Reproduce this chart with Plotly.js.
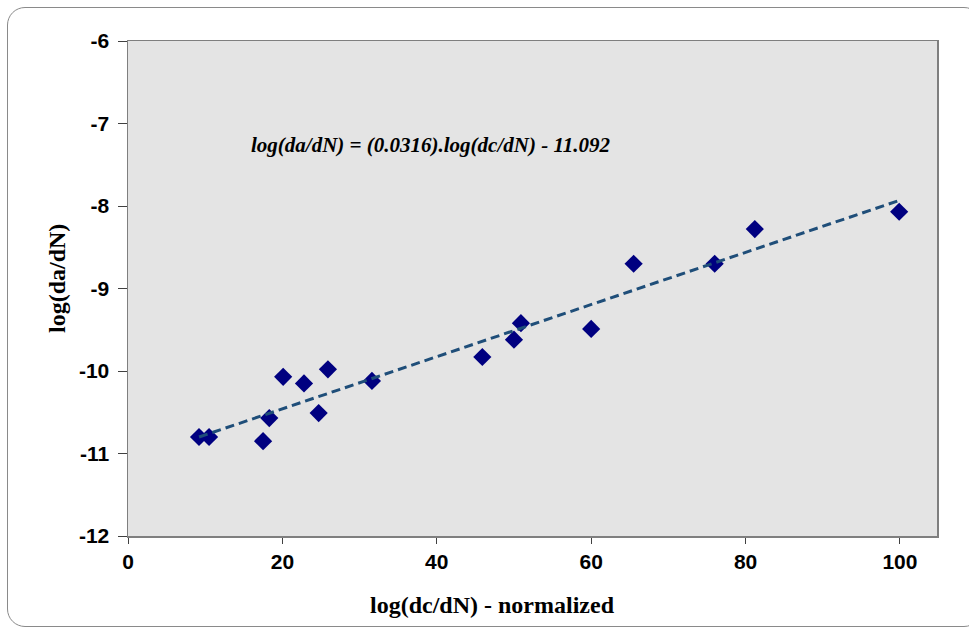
<!DOCTYPE html>
<html>
<head>
<meta charset="utf-8">
<script src="https://cdn.plot.ly/plotly-3.0.1.min.js"></script>
<style>
  html, body { margin: 0; padding: 0; background: #ffffff; overflow: hidden; }
  #frame { position: absolute; left: 7px; top: 7px; width: 975px; height: 620px;
           border: 1.5px solid #8a8a8a; border-radius: 18px; box-sizing: border-box; }
  #chart { position: absolute; left: 0; top: 0; width: 969px; height: 629px; }
</style>
</head>
<body>
<div id="frame"></div>
<div id="chart"></div>
<script>
const dcdnNormalized = [9.2, 10.5, 17.5, 18.3, 20.1, 22.8, 24.7, 25.9, 31.6, 45.9, 50.0, 50.9, 60.0, 65.5, 76.0, 81.2, 99.9];
const logDadN        = [-10.80, -10.80, -10.85, -10.57, -10.07, -10.15, -10.51, -9.98, -10.12, -9.83, -9.62, -9.42, -9.49, -8.70, -8.70, -8.28, -8.07];

// Trend line end points
const trendX = [9.2, 100];
const trendY = [-10.80, -7.93];

// Axis ticks
const xTicks = [0, 20, 40, 60, 80, 100];
const yTicks = [-12, -11, -10, -9, -8, -7, -6];

const equationText = 'log(da/dN) = (0.0316).log(dc/dN) - 11.092';
const xTitle = 'log(dc/dN) - normalized';
const yTitle = 'log(da/dN)';

const traces = [
  {
    x: dcdnNormalized, y: logDadN, type: 'scatter', mode: 'markers',
    marker: { symbol: 'diamond', size: 14, color: '#000080', line: { width: 0 } },
    showlegend: false, hoverinfo: 'x+y'
  },
  {
    x: trendX, y: trendY, type: 'scatter', mode: 'lines',
    line: { color: '#1f4e79', width: 3, dash: '9px,5px' },
    showlegend: false, hoverinfo: 'skip'
  }
];

const tickFont = { family: 'Liberation Sans, Arial, sans-serif', size: 21, color: '#000000', weight: 'bold' };
const serif = 'Liberation Serif, Times New Roman, serif';

const layout = {
  width: 969, height: 629,
  margin: { l: 128, r: 32, t: 41, b: 93, pad: 0 },
  paper_bgcolor: 'rgba(0,0,0,0)',
  plot_bgcolor: '#e4e4e4',
  showlegend: false,
  xaxis: {
    range: [0, 104.8], tickvals: xTicks, ticktext: xTicks.map(String),
    showgrid: false, zeroline: false,
    showline: true, linecolor: '#7f7f7f', linewidth: 1.5, mirror: true,
    ticks: 'outside', ticklen: 6, tickcolor: '#404040', tickwidth: 1,
    tickfont: tickFont, title: { text: '' }
  },
  yaxis: {
    range: [-12, -6], tickvals: yTicks, ticktext: yTicks.map(String),
    showgrid: false, zeroline: false,
    showline: true, linecolor: '#7f7f7f', linewidth: 1.5, mirror: true,
    ticks: 'outside', ticklen: 9, tickcolor: '#404040', tickwidth: 1,
    ticklabelstandoff: 4,
    tickfont: tickFont, title: { text: '' }
  },
  annotations: [
    {
      text: '<b><i>' + equationText + '</i></b>', xref: 'paper', yref: 'paper',
      x: (431 - 128) / 809, y: (536 - 145) / 495, xanchor: 'center', yanchor: 'middle',
      showarrow: false, font: { family: serif, size: 21, color: '#000000' }
    },
    {
      text: '<b>' + xTitle + '</b>', xref: 'paper', yref: 'paper',
      x: (492 - 128) / 809, y: -(605 - 536) / 495, xanchor: 'center', yanchor: 'middle',
      showarrow: false, font: { family: serif, size: 24, color: '#000000' }
    },
    {
      text: '<b>' + yTitle + '</b>', xref: 'paper', yref: 'paper',
      x: -(128 - 57) / 809, y: (536 - 279) / 495, xanchor: 'center', yanchor: 'middle',
      textangle: -90,
      showarrow: false, font: { family: serif, size: 24, color: '#000000' }
    }
  ]
};

Plotly.newPlot('chart', traces, layout, { displayModeBar: false, staticPlot: true });
</script>
</body>
</html>
